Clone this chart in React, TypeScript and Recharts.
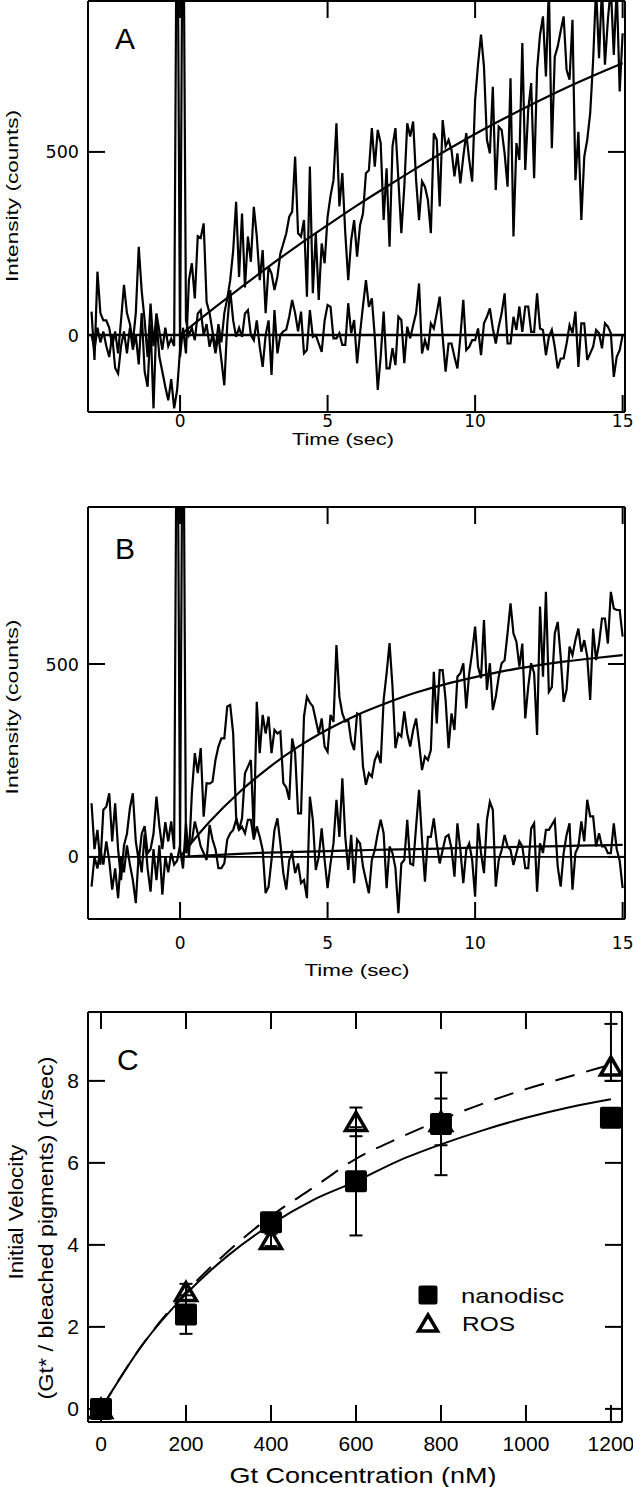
import React from 'react';
import { ComposedChart, Line, Scatter, XAxis, YAxis, ReferenceLine, ErrorBar } from 'recharts';

// time traces are sampled every 0.1 s starting at -3 s
const T_START = -3;
const T_STEP = 0.1;

const A_SIGNAL = [
  64, -68, 173, 60, 40, 40, 20, -30, 10, -50, 40, 137, 60, 30, -20, 60, 241, 120, 40, -60,
  86, -30, 59, 10, -40, 20, -30, -10, -30, 1400, -60,
  20, -50, 150, 196, 100, 270, 265, 305, 90, 60,
  10, -40, 30, -20, 60, 100, 150, 230, 364, 159,
  332, 130, 269, 200, 350, 270, 150, 232, 60, 187,
  168, 123, 160, 223, 250, 278, 323, 337, 487, 278,
  269, 314, 105, 460, 114, 278, 96, 250, 196, 323,
  380, 423, 578, 351, 442, 278, 150, 259, 314, 214,
  300, 332, 442, 450, 565, 460, 560, 524, 314, 455,
  241, 515, 565, 423, 278, 405, 578, 542, 583, 423,
  314, 420, 405, 369, 278, 551, 533, 351, 587, 515,
  533, 505, 433, 496, 414, 487, 551, 478, 419, 642,
  740, 820, 733, 533, 496, 678, 396, 569, 560, 496,
  405, 701, 269, 524, 478, 797, 451, 615, 688, 428,
  724, 820, 870, 706, 950, 510, 760, 788, 830, 870,
  724, 697, 861, 423, 555, 314, 487, 533, 606, 750,
  950, 756, 950, 738, 861, 950, 765, 950, 665, 824,
];

const A_CONTROL = [
  0, -40, 20, -20, 10, -30, -60, 0, -90, -105, -30, 10, -50, 20, -40, 0, -80, 60, -100, -141,
  30, -200, 40, -60, -100, -141, -178, -120, -200, -150, -40, 1400,
  41, 0, 20, -14, 59, 68, 0, 30, -32,
  0, -50, 0, -68, -137, 30, 123, 40, -5, 20,
  -5, 59, 68, 0, -14, 40, -32, -87, 0, 40,
  -109, 68, -50, 0, 10, 15, 50, 96, 60, 10,
  64, -50, -41, 68, -5, 0, -23, -46, 40, 82,
  77, -9, -9, 5, -27, -27, 87, 5, 41, -77,
  5, 80, 150, 77, 100, -5, -150, -59, 64, -91,
  -91, -36, -82, 50, 41, -77, 23, -9, 27, 60,
  141, -50, -14, -41, 32, 18, 60, 105, -5, -100,
  -23, -23, -59, -91, -5, 96, -41, -32, -14, -14,
  18, -55, 32, 50, 73, 18, -23, 23, 60, 114,
  -23, -23, 50, 14, 78, 9, 78, 78, 9, 9,
  114, 18, 14, -55, -5, 14, -32, -91, -64, -64,
  -23, 27, 5, 64, -87, 32, 32, -68, -50, -32,
  14, 5, -36, 32, 23, 5, -114, -59, -41, 0,
];

const B_SIGNAL = [
  139, 20, 70, -20, 122, 130, 165, 40, 139, 20, -60, 30, 60, 126, 165, 40, -10, 60, 80, 10,
  20, 60, 156, 80, 20, 90, 40, 92, 20, 1400, 20,
  -30, 87, 0, 165, 269, 217, 282, 104, 191, 190,
  195, 251, 286, 307, 307, 390, 394, 320, 104, 70,
  100, 217, 234, 251, 61, 402, 269, 368, 320, 364,
  269, 329, 320, 325, 191, 180, 148, 307, 269, 113,
  113, 364, 415, 400, 390, 355, 320, 359, 286, 273,
  368, 350, 549, 415, 372, 351, 355, 300, 277, 372,
  368, 234, 187, 217, 208, 251, 269, 243, 407, 476,
  554, 441, 282, 320, 312, 377, 320, 286, 329, 359,
  295, 225, 260, 251, 277, 480, 346, 484, 484, 407,
  282, 372, 329, 467, 476, 502, 385, 476, 530, 597,
  493, 463, 614, 433, 502, 381, 415, 467, 502, 510,
  580, 657, 579, 558, 493, 553, 359, 441, 502, 476,
  316, 649, 467, 687, 428, 440, 579, 609, 519, 402,
  433, 545, 523, 562, 592, 532, 562, 519, 407, 592,
  510, 553, 618, 618, 553, 687, 644, 640, 640, 571,
];

const B_CONTROL = [
  -77, 0, -30, 20, -20, 40, -10, -85, -30, -107, 0, -40, 30, -20, -60, -120, 10, -40, 60, -30,
  -90, 20, -60, 30, -98, 0, -40, 10, -20, -10, 30, 1400,
  10, 27, 40, 92, 61, 27, 10, -8, 83,
  45, 20, -29, -29, -17, 45, 61, 70, 96, 70,
  78, 61, 96, 96, 45, 79, 52, 18, -94, -77,
  -8, 70, 100, 35, -42, -85, -8, 10, -42, -17,
  -68, -60, -107, 156, 96, -34, 0, 74, -8, -81,
  -17, 35, 148, 52, 204, 52, -34, 57, -68, 45,
  35, -25, -60, -94, -8, 18, 61, 96, 61, -81,
  27, 10, -29, -146, -17, -8, 96, -17, -21, 79,
  174, 45, -64, 52, 52, 100, 35, -17, 18, 52,
  57, 22, -51, 87, 18, -68, 18, 35, -8, -103,
  87, 10, -42, 96, 143, 122, -77, -8, 18, 57,
  27, 18, -21, 10, 40, 27, -29, -29, 74, 87,
  -90, 35, 10, 70, 70, 83, 96, -25, -77, 10,
  57, 87, -85, 10, 27, 92, 40, 148, 105, 105,
  27, 61, 27, 27, 10, 10, 87, 20, -10, -81,
];

const FIT_TIMES = [0, 1, 2, 3, 4, 5, 6, 7, 8, 9, 10, 11, 12, 13, 14, 15];
const A_SIGNAL_FIT = [0, 64, 126, 187, 245, 300, 354, 405, 455, 503, 549, 592, 633, 672, 708, 742];
const B_SIGNAL_FIT = [0, 91, 167, 231, 285, 330, 368, 399, 426, 448, 466, 482, 495, 506, 515, 523];
const B_CONTROL_FIT = [0, 4, 8, 11, 13, 15, 17, 19, 20, 22, 24, 25, 27, 28, 30, 31];

const TIME_TICKS = [0, 5, 10, 15];
const INTENSITY_TICKS = [0, 500];

const GT_CONC = [0, 200, 400, 600, 800, 1200];
const NANODISC = [0, 2.3, 4.55, 5.55, 6.95, 7.1];
const NANODISC_ERR = [0.1, 0.47, 0.2, 1.32, 1.25, 0.2];
const ROS = [0, 2.85, 4.12, 7.0, 7.0, 8.35];
// [below, above]
const ROS_ERR = [[0.1, 0.1], [0.2, 0.2], [0.15, 0.15], [0.35, 0.35], [0.57, 0.57], [0.35, 1.04]];

const FIT_CONC = [0, 100, 200, 300, 400, 500, 600, 700, 800, 900, 1000, 1100, 1200];
const NANODISC_FIT = [0, 1.6, 2.8, 3.75, 4.5, 5.1, 5.55, 6.05, 6.45, 6.8, 7.1, 7.35, 7.55];
const ROS_FIT = [0, 1.6, 2.85, 3.85, 4.7, 5.4, 6.1, 6.6, 7.05, 7.45, 7.8, 8.1, 8.4];

const CONC_TICKS = [0, 200, 400, 600, 800, 1000, 1200];
const VELOCITY_TICKS = [0, 2, 4, 6, 8];

const SANS = "'Liberation Sans', Arial, sans-serif";
const DEJAVU = "'DejaVu Sans', sans-serif";
const TICK_LEN = 17;
const LINE_W = 2.2;
const AXIS_LINE = { stroke: '#000', strokeWidth: 2 };

const sampled = (values: number[]) =>
  values.map((y, i) => ({ x: Math.round((T_START + i * T_STEP) * 10) / 10, y }));
const paired = (xs: number[], ys: number[]) => xs.map((x, i) => ({ x, y: ys[i] }));

const bottomTick = (dy: number, fontSize: number, font: string) => (p: any) => (
  <g>
    <line x1={p.x} x2={p.x} y1={p.y} y2={p.y - TICK_LEN} stroke="#000" strokeWidth={2} />
    <text x={p.x} y={p.y + dy} textAnchor="middle" fontSize={fontSize} fontFamily={font} fill="#000">
      {p.payload.value}
    </text>
  </g>
);

const leftTick = (dy: number, fontSize: number, font: string) => (p: any) => (
  <g>
    <line x1={p.x} x2={p.x + TICK_LEN} y1={p.y} y2={p.y} stroke="#000" strokeWidth={2} />
    <text x={p.x - 9} y={p.y + dy} textAnchor="end" fontSize={fontSize} fontFamily={font} fill="#000">
      {p.payload.value}
    </text>
  </g>
);

const topTick = (p: any) => (
  <line x1={p.x} x2={p.x} y1={p.y} y2={p.y + TICK_LEN} stroke="#000" strokeWidth={2} />
);

const rightTick = (p: any) => (
  <line x1={p.x} x2={p.x - TICK_LEN} y1={p.y} y2={p.y} stroke="#000" strokeWidth={2} />
);

interface TracePanelProps {
  top: number;
  height: number;
  marginTop: number;
  bottomHeight: number;
  yDomain: [number, number];
  labelDy: number;
  zeroWidth: number;
  signal: number[];
  control: number[];
  fits: number[][];
}

const TracePanel = ({ top, height, marginTop, bottomHeight, yDomain, labelDy, zeroWidth, signal, control, fits }: TracePanelProps) => (
  <div style={{ position: 'absolute', left: 0, top, width: 633, height }}>
    <ComposedChart width={633} height={height} margin={{ top: marginTop, right: 0, bottom: 0, left: 0 }}>
      <XAxis xAxisId="b" dataKey="x" type="number" domain={[-3.12, 15.08]} allowDataOverflow
        ticks={TIME_TICKS} interval={0} height={bottomHeight} tickSize={0} tickMargin={0} tickLine={false}
        axisLine={AXIS_LINE} tick={bottomTick(labelDy, 17, DEJAVU)} />
      <XAxis xAxisId="t" orientation="top" dataKey="x" type="number" domain={[-3.12, 15.08]} allowDataOverflow
        ticks={TIME_TICKS} interval={0} height={1} tickSize={0} tickMargin={0} tickLine={false}
        axisLine={AXIS_LINE} tick={topTick} />
      <YAxis yAxisId="l" dataKey="y" type="number" domain={yDomain} allowDataOverflow
        ticks={INTENSITY_TICKS} interval={0} width={88} tickSize={0} tickMargin={0} tickLine={false}
        axisLine={AXIS_LINE} tick={leftTick(6.5, 17.5, DEJAVU)} />
      <YAxis yAxisId="r" orientation="right" dataKey="y" type="number" domain={yDomain} allowDataOverflow
        ticks={INTENSITY_TICKS} interval={0} width={8} tickSize={0} tickMargin={0} tickLine={false}
        axisLine={AXIS_LINE} tick={rightTick} />
      <ReferenceLine xAxisId="b" yAxisId="l" y={0} stroke="#000" strokeWidth={zeroWidth} />
      <Line xAxisId="b" yAxisId="l" data={sampled(control)} dataKey="y" type="linear" stroke="#000"
        strokeWidth={LINE_W} dot={false} activeDot={false} isAnimationActive={false} />
      <Line xAxisId="b" yAxisId="l" data={sampled(signal)} dataKey="y" type="linear" stroke="#000"
        strokeWidth={LINE_W} dot={false} activeDot={false} isAnimationActive={false} />
      {fits.map((fit, i) => (
        <Line key={i} xAxisId="b" yAxisId="l" data={paired(FIT_TIMES, fit)} dataKey="y" type="monotone"
          stroke="#000" strokeWidth={LINE_W} dot={false} activeDot={false} isAnimationActive={false} />
      ))}
    </ComposedChart>
  </div>
);

const Square = (p: any) => <rect x={p.cx - 11} y={p.cy - 11} width={22} height={22} rx={2} fill="#000" />;
const Triangle = (p: any) => (
  <path d={`M${p.cx},${p.cy - 9.5} L${p.cx + 10.5},${p.cy + 8.5} L${p.cx - 10.5},${p.cy + 8.5} Z`}
    fill="none" stroke="#000" strokeWidth={3.5} />
);

const withErr = (ys: number[], errs: (number | number[])[]) => GT_CONC.map((x, i) => ({ x, y: ys[i], err: errs[i] }));

const VelocityPanel = () => (
  <div style={{ position: 'absolute', left: 0, top: 1000, width: 633, height: 487 }}>
    <ComposedChart width={633} height={487} margin={{ top: 11, right: 0, bottom: 0, left: 0 }}>
      <XAxis xAxisId="b" dataKey="x" type="number" domain={[-30.6, 1226]} allowDataOverflow
        ticks={CONC_TICKS} interval={0} height={65} tickSize={0} tickMargin={0} tickLine={false}
        axisLine={AXIS_LINE} tick={bottomTick(28.5, 21, SANS)} />
      <XAxis xAxisId="t" orientation="top" dataKey="x" type="number" domain={[-30.6, 1226]} allowDataOverflow
        ticks={CONC_TICKS} interval={0} height={1} tickSize={0} tickMargin={0} tickLine={false}
        axisLine={AXIS_LINE} tick={topTick} />
      <YAxis yAxisId="l" dataKey="y" type="number" domain={[-0.32, 9.68]} allowDataOverflow
        ticks={VELOCITY_TICKS} interval={0} width={88} tickSize={0} tickMargin={0} tickLine={false}
        axisLine={AXIS_LINE} tick={leftTick(7.5, 21, SANS)} />
      <YAxis yAxisId="r" orientation="right" dataKey="y" type="number" domain={[-0.32, 9.68]} allowDataOverflow
        ticks={VELOCITY_TICKS} interval={0} width={11} tickSize={0} tickMargin={0} tickLine={false}
        axisLine={AXIS_LINE} tick={rightTick} />
      <Line xAxisId="b" yAxisId="l" data={paired(FIT_CONC, ROS_FIT)} dataKey="y" type="monotone"
        stroke="#000" strokeWidth={2} strokeDasharray="20 12" dot={false} activeDot={false} isAnimationActive={false} />
      <Line xAxisId="b" yAxisId="l" data={paired(FIT_CONC, NANODISC_FIT)} dataKey="y" type="monotone"
        stroke="#000" strokeWidth={2} dot={false} activeDot={false} isAnimationActive={false} />
      <Scatter xAxisId="b" yAxisId="l" data={withErr(ROS, ROS_ERR)} dataKey="y" shape={Triangle} isAnimationActive={false}>
        <ErrorBar dataKey="err" direction="y" width={6.5} stroke="#000" strokeWidth={2} />
      </Scatter>
      <Scatter xAxisId="b" yAxisId="l" data={withErr(NANODISC, NANODISC_ERR)} dataKey="y" shape={Square} isAnimationActive={false}>
        <ErrorBar dataKey="err" direction="y" width={6.5} stroke="#000" strokeWidth={2} />
      </Scatter>
    </ComposedChart>
  </div>
);

const VText = ({ x, y, len, size, children }: any) => (
  <text x={x} y={y} transform={`rotate(-90, ${x}, ${y})`} textAnchor="middle" dominantBaseline="central"
    fontSize={size} fontFamily={SANS} textLength={len} lengthAdjust="spacingAndGlyphs">
    {children}
  </text>
);

const Overlay = () => (
  <svg width={633} height={1487} style={{ position: 'absolute', left: 0, top: 0, pointerEvents: 'none' }}>
    <g fill="#000">
      <text x={115} y={49} fontSize={30} fontFamily={SANS}>A</text>
      <text x={115} y={559} fontSize={30} fontFamily={SANS}>B</text>
      <text x={117} y={1070} fontSize={30} fontFamily={SANS}>C</text>

      <VText x={12.5} y={196} len={172} size={17}>Intensity (counts)</VText>
      <VText x={12} y={707} len={175} size={17}>Intensity (counts)</VText>
      <text x={343} y={445} textAnchor="middle" fontSize={16} fontFamily={SANS} textLength={102} lengthAdjust="spacingAndGlyphs">Time (sec)</text>
      <text x={357} y={976} textAnchor="middle" fontSize={17} fontFamily={SANS} textLength={105} lengthAdjust="spacingAndGlyphs">Time (sec)</text>

      <VText x={15} y={1212} len={135} size={21}>Initial Velocity</VText>
      <VText x={45} y={1228} len={343} size={21}>(Gt* / bleached pigments) (1/sec)</VText>
      <text x={363} y={1483} textAnchor="middle" fontSize={22} fontFamily={SANS} textLength={267} lengthAdjust="spacingAndGlyphs">Gt Concentration (nM)</text>

      <rect x={418.5} y={1285.5} width={19} height={19} rx={2} />
      <text x={461} y={1302.5} fontSize={21} fontFamily={SANS} textLength={103} lengthAdjust="spacingAndGlyphs">nanodisc</text>
      <path d="M428,1315 L437.5,1331 L418.5,1331 Z" fill="none" stroke="#000" strokeWidth={3.5} />
      <text x={462} y={1330.5} fontSize={21} fontFamily={SANS} textLength={53} lengthAdjust="spacingAndGlyphs">ROS</text>
    </g>
  </svg>
);

export default function App() {
  return (
    <div style={{ position: 'absolute', left: 0, top: 0, width: 633, height: 1487, background: '#fff' }}>
      <TracePanel top={0} height={450} marginTop={0} bottomHeight={38} yDomain={[-210, 912]} labelDy={15}
        zeroWidth={2.5} signal={A_SIGNAL} control={A_CONTROL} fits={[A_SIGNAL_FIT]} />
      <TracePanel top={480} height={500} marginTop={26} bottomHeight={61} yDomain={[-161, 907]} labelDy={29.5}
        zeroWidth={1.8} signal={B_SIGNAL} control={B_CONTROL} fits={[B_SIGNAL_FIT, B_CONTROL_FIT]} />
      <VelocityPanel />
      <Overlay />
    </div>
  );
}
